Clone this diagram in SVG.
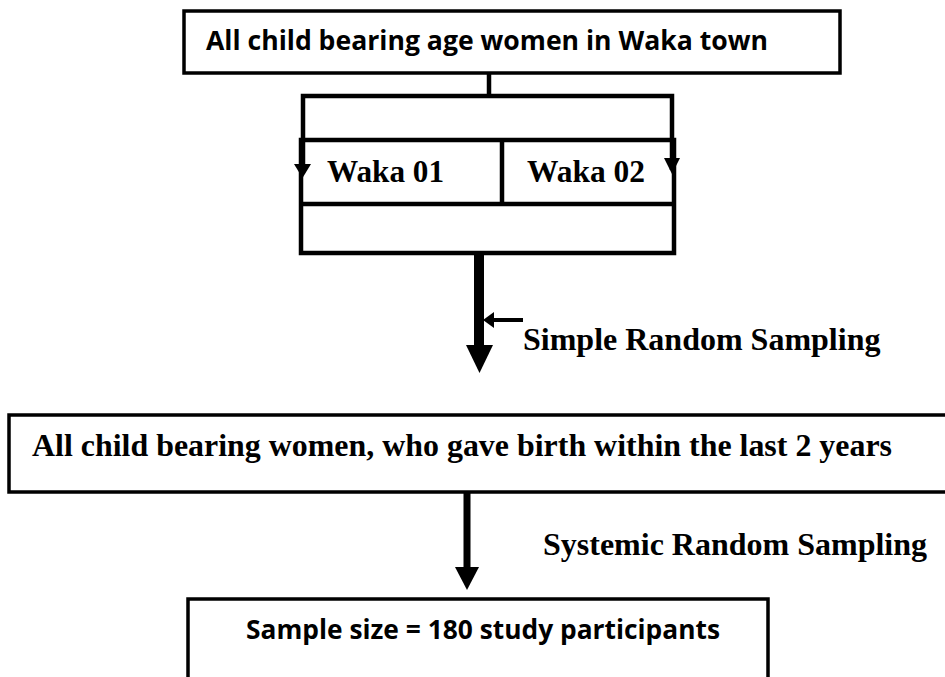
<svg xmlns="http://www.w3.org/2000/svg" width="945" height="677" viewBox="0 0 945 677">
<style>
.box{fill:#fff;stroke:#000;stroke-width:3.5}
.ln{fill:none;stroke:#000;stroke-width:4.5}
.sans{font-family:"Open Sans","Noto Sans",sans-serif;font-weight:bold;fill:#000}
.serif{font-family:"Liberation Serif","Times New Roman",serif;font-weight:bold;fill:#000}
.head{fill:#000}
</style>
<rect width="945" height="677" fill="#fff"/>
<g id="node-top">
<rect class="box" x="184" y="11" width="656" height="62"/>
<text class="sans" x="206" y="50" font-size="26" textLength="562" lengthAdjust="spacingAndGlyphs">All child bearing age women in Waka town</text>
</g>
<g id="node-waka">
<rect class="ln" x="301" y="140" width="373" height="113"/>
<line class="ln" x1="301" y1="204" x2="674" y2="204"/>
<line class="ln" x1="502" y1="140" x2="502" y2="204"/>
<text class="serif" x="327" y="182" font-size="31" textLength="117" lengthAdjust="spacingAndGlyphs">Waka 01</text>
<text class="serif" x="527" y="182" font-size="31" textLength="118" lengthAdjust="spacingAndGlyphs">Waka 02</text>
</g>
<g id="node-middle">
<path class="box" d="M950 415 H9 V492 H950"/>
<text class="serif" x="32" y="456" font-size="32" textLength="860" lengthAdjust="spacingAndGlyphs">All child bearing women, who gave birth within the last 2 years</text>
</g>
<g id="node-bottom">
<path class="box" d="M188 690 V599 H768 V690"/>
<text class="sans" x="246" y="639" font-size="26" textLength="474" lengthAdjust="spacingAndGlyphs">Sample size = 180 study participants</text>
</g>
<g id="connectors">
<line class="ln" x1="489" y1="73" x2="489" y2="96"/>
<polyline class="ln" points="303,170 303,96 672,96 672,170"/>
<polygon class="head" points="294,164 311,164 302.5,178"/>
<polygon class="head" points="664,158 680,158 672,174"/>
<rect x="474" y="253" width="10" height="95" fill="#000"/>
<polygon class="head" points="466,345 493,345 479.5,373"/>
<line x1="523" y1="320" x2="490" y2="320" stroke="#000" stroke-width="4"/>
<polygon class="head" points="483,320 494,312 494,328"/>
<rect x="463.5" y="492" width="7" height="77" fill="#000"/>
<polygon class="head" points="455,567 479,567 467,590"/>
</g>
<g id="labels">
<text class="serif" x="523" y="350" font-size="32">Simple Random Sampling</text>
<text class="serif" x="543" y="555" font-size="32">Systemic Random Sampling</text>
</g>
</svg>
